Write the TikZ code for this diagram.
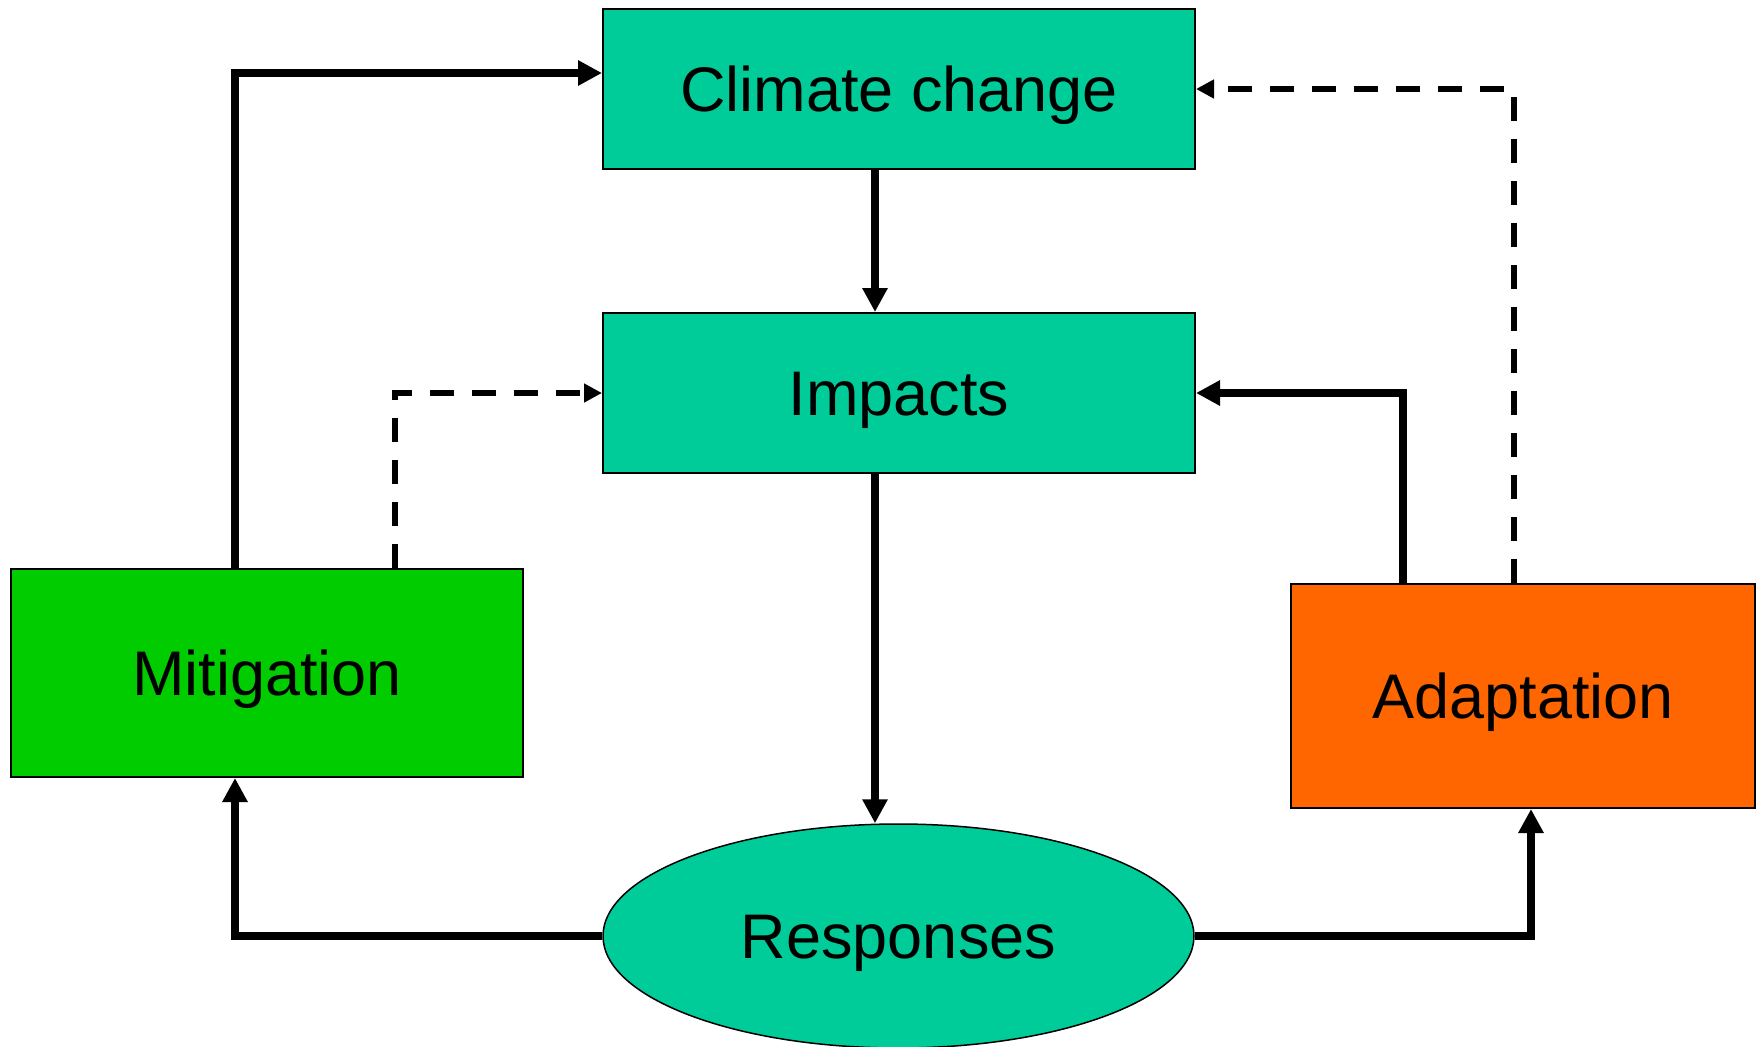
\documentclass[tikz,border=0pt]{standalone}
\usepackage{fontspec}
\setmainfont{Liberation Sans}
\usetikzlibrary{arrows.meta,shapes.geometric}
\definecolor{tealfill}{HTML}{00CC99}
\definecolor{greenfill}{HTML}{00CC00}
\definecolor{orangefill}{HTML}{FF6600}
\begin{document}
\begin{tikzpicture}[x=0.5pt,y=-0.5pt,
  box/.style={draw=black, line width=1pt, inner sep=0pt,
    font=\fontsize{31.5pt}{36pt}\selectfont, text height=22.5pt, text depth=0pt},
  solidarrow/.style={draw=black, line width=3.6pt, line join=miter,
    -{Triangle[length=12pt,width=12pt]}},
  dasharrow/.style={draw=black, line width=3pt, line join=miter,
    dash pattern=on 12pt off 9pt, -{Triangle[length=9pt,width=9pt]}}]
\fill[white] (0,0) rectangle (1762,1046);
\useasboundingbox (0,0) rectangle (1762,1046);

\node[box, fill=tealfill, minimum width=296pt, minimum height=80pt] (clim) at (899,89) {Climate change};
\node[box, fill=tealfill, minimum width=296pt, minimum height=80pt] (imp) at (899,393) {Impacts};
\node[box, fill=greenfill, minimum width=256pt, minimum height=104pt] (mit) at (267,673) {Mitigation};
\node[box, fill=orangefill, minimum width=232pt, minimum height=112pt] (ada) at (1523,696) {Adaptation};
\node[box, ellipse, fill=tealfill, line width=0.75pt, minimum width=295.5pt, minimum height=112pt] (resp) at (898.5,936) {Responses};

\coordinate (cA) at (875,0);
\coordinate (mA) at (235,0);
\coordinate (mB) at (395,0);
\coordinate (aA) at (1403,0);
\coordinate (aB) at (1514,0);
\coordinate (aC) at (1531,0);
\coordinate (yA) at (0,73);

\draw[solidarrow] (clim.south -| cA) -- (imp.north -| cA);
\draw[solidarrow] (imp.south -| cA) -- (resp.north -| cA);
\draw[solidarrow] (resp.west) -| (mA |- mit.south);
\draw[solidarrow] (resp.east) -| (aC |- ada.south);
\draw[solidarrow] (mA |- mit.north) |- (clim.west |- yA);
\draw[dasharrow] (mB |- mit.north) |- (imp.west);
\draw[solidarrow] (aA |- ada.north) |- (imp.east);
\draw[dasharrow] (aB |- ada.north) |- (clim.east);
\end{tikzpicture}
\end{document}
